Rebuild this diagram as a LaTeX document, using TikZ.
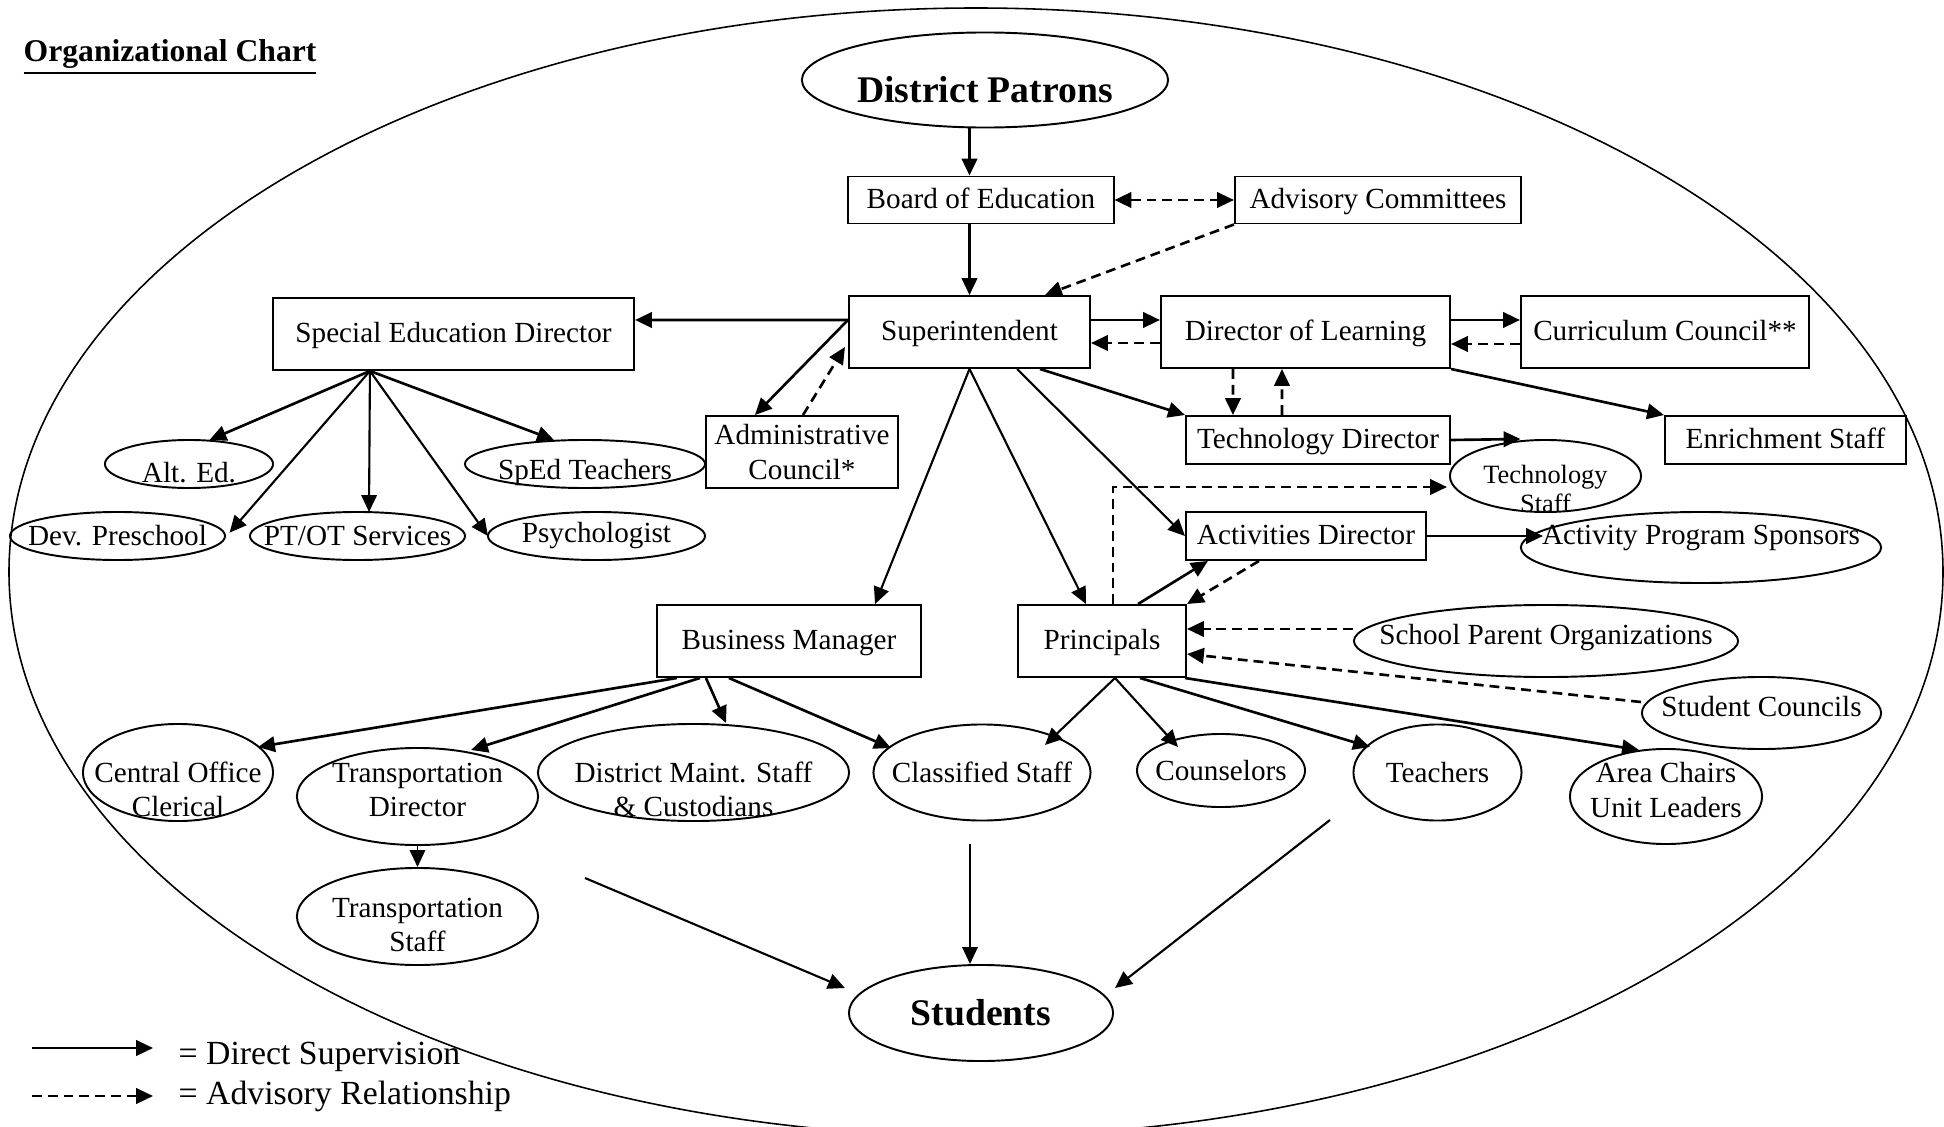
\documentclass[tikz,border=0pt]{standalone}
\usepackage{fontspec}
\setmainfont{Liberation Serif}
\usetikzlibrary{shapes.geometric,arrows.meta}

\tikzset{
    plainbox/.style 2 args={draw, line width=0.55pt, rectangle, inner sep=0pt, minimum width=#1, minimum height=#2},
    rbox/.style 2 args={plainbox={#1}{#2}, text height=0.68em, text depth=0.22em},
    oval/.style 2 args={draw, line width=0.55pt, ellipse, inner sep=0pt, minimum width=#1, minimum height=#2},
    sv/.style={line width=0.75pt, -{Triangle[length=4.8pt,width=4.4pt]}},
    svmid/.style={line width=0.6pt, -{Triangle[length=4.8pt,width=4.4pt]}},
    svthin/.style={line width=0.45pt, -{Triangle[length=4.8pt,width=4.4pt]}},
    adv/.style={line width=0.75pt, dash pattern=on 2.8pt off 1.7pt, -{Triangle[length=4.8pt,width=4.4pt]}},
    bigtext/.style={font=\bfseries\fontsize{10.7}{12}\selectfont},
    smalltext/.style={font=\fontsize{7.5}{8}\selectfont},
}

\begin{document}
\begin{tikzpicture}[x=0.01cm, y=-0.01cm, font=\fontsize{8.3}{9.7}\selectfont]
    \useasboundingbox (0,0) rectangle (1944,1127);
    \draw[line width=0.45pt] (976,572) ellipse (967 and 564);

    \node[anchor=base west, inner sep=0pt, font=\bfseries\fontsize{9}{11}\selectfont] (title) at (23,61) {\underline{Organizational Chart}};

    \node[oval={3.66cm}{.95cm}, label={[bigtext, yshift=-.1cm]center:District Patrons}] (patrons) at (985,80) {};
    \node[rbox={2.65cm}{.47cm}] (boe) at (981,200) {Board of Education};
    \node[rbox={2.86cm}{.47cm}] (advc) at (1378,200) {Advisory Committees};
    \node[rbox={2.41cm}{.72cm}] (sup) at (969.5,332) {Superintendent};
    \node[rbox={3.61cm}{.72cm}] (sped) at (453.5,334) {Special Education Director};
    \node[rbox={2.89cm}{.72cm}] (dol) at (1305.5,332) {Director of Learning};
    \node[rbox={2.88cm}{.72cm}] (cc) at (1665,332) {Curriculum Council**};
    \node[plainbox={1.92cm}{.72cm}, align=center] (admc) at (802,452) {Administrative\\Council*};
    \node[rbox={2.64cm}{.48cm}] (techdir) at (1318,440) {Technology Director};
    \node[rbox={2.41cm}{.48cm}] (enrich) at (1785.5,440) {Enrichment Staff};
    \node[oval={1.91cm}{.72cm}, label={[smalltext, align=center, yshift=-.13cm]center:Technology\\Staff}] (techstaff) at (1545.5,476) {};
    \node[rbox={2.40cm}{.48cm}] (actdir) at (1306,536) {Activities Director};
    \node[oval={3.60cm}{.71cm}, label={[yshift=.1cm]center:Activity Program Sponsors}] (sponsors) at (1701,547.5) {};
    \node[oval={3.84cm}{.72cm}, label={[yshift=.03cm]center:School Parent Organizations}] (parents) at (1546,641) {};
    \node[rbox={1.68cm}{.72cm}] (princ) at (1102,641) {Principals};
    \node[rbox={2.64cm}{.72cm}] (busmgr) at (789,641) {Business Manager};
    \node[oval={2.39cm}{.72cm}, label={[yshift=.06cm]center:Student Councils}] (stucouncil) at (1761.5,713) {};

    \node[oval={1.68cm}{.48cm}, label={[yshift=-.09cm]center:Alt. Ed.}] (alted) at (189,464) {};
    \node[oval={2.40cm}{.48cm}, label={[yshift=-.08cm]center:SpEd Teachers}] (spedteach) at (585,464) {};
    \node[oval={2.15cm}{.48cm}, label={center:Dev. Preschool}] (devpre) at (117.5,536) {};
    \node[oval={2.15cm}{.48cm}, label={center:PT/OT Services}] (ptot) at (357.5,536) {};
    \node[oval={2.17cm}{.48cm}, label={center:Psychologist}] (psych) at (596.5,536) {};

    \node[oval={1.90cm}{.97cm}, label={[align=center, yshift=-.17cm]center:Central Office\\Clerical}] (clerical) at (178,772.5) {};
    \node[oval={2.41cm}{.97cm}, label={[align=center, yshift=.065cm]center:Transportation\\Director}] (transdir) at (417.5,796.5) {};
    \node[oval={3.11cm}{.97cm}, label={[align=center, yshift=-.17cm]center:District Maint. Staff\\\& Custodians}] (maint) at (693.5,772.5) {};
    \node[oval={2.17cm}{.96cm}, label={center:Classified Staff}] (classified) at (982,772.5) {};
    \node[oval={1.68cm}{.73cm}, label={center:Counselors}] (counsel) at (1221,770.5) {};
    \node[oval={1.68cm}{.96cm}, label={center:Teachers}] (teachers) at (1437.5,772.5) {};
    \node[oval={1.92cm}{.95cm}, label={[align=center, yshift=.065cm]center:Area Chairs\\Unit Leaders}] (chairs) at (1666,796.5) {};
    \node[oval={2.41cm}{.97cm}, label={[align=center, yshift=-.085cm]center:Transportation\\Staff}] (transstaff) at (417.5,916.5) {};
    \node[oval={2.64cm}{.96cm}, label={[bigtext]center:Students}] (students) at (981,1013) {};

    \draw[sv] (patrons.south -| sup.north) -- (boe.north -| sup.north);
    \draw[adv, {Triangle[length=4.8pt,width=4.4pt]}-{Triangle[length=4.8pt,width=4.4pt]}] (boe.east) -- (advc.west);
    \draw[sv] (boe.south -| sup.north) -- (sup.north);
    \draw[adv] (advc.south west) -- ([xshift=.755cm]sup.north);
    \draw[sv] ([yshift=.12cm]sup.west) -- ([yshift=.14cm]sped.east);
    \draw[sv] ([yshift=.12cm]sup.west) -- ([xshift=-.47cm]admc.north);
    \draw[adv] ([xshift=.01cm]admc.north) -- ([xshift=-.03cm, yshift=-.15cm]sup.west);
    \draw[sv] ([yshift=.12cm]sup.east) -- ([yshift=.12cm]dol.west);
    \draw[adv] ([yshift=-.11cm]dol.west) -- ([yshift=-.11cm]sup.east);
    \draw[sv] ([yshift=.12cm]dol.east) -- ([yshift=.12cm]cc.west);
    \draw[adv] ([yshift=-.12cm]cc.west) -- ([yshift=-.12cm]dol.east);
    \draw[adv] ([xshift=-.725cm]dol.south) -- ([xshift=-.85cm]techdir.north);
    \draw[adv] ([xshift=-.36cm]techdir.north) -- ([xshift=-.235cm]dol.south);
    \draw[sv] ([xshift=.705cm]sup.south) -- (techdir.north west);
    \draw[sv] (dol.south east) -- (enrich.north west);
    \draw[sv] (techdir.east) -- ([xshift=-.25cm]techstaff.north);
    \draw[svmid] ([xshift=.475cm]sup.south) -- (actdir.west);
    \draw[svmid] (sup.south) -- ([xshift=.86cm]busmgr.north);
    \draw[svmid] (sup.south) -- ([xshift=-.16cm]princ.north);
    \draw[sv] ([xshift=.36cm]princ.north) -- ([xshift=-.98cm]actdir.south);
    \draw[adv] ([xshift=-.47cm]actdir.south) -- (princ.north east);
    \draw[adv] ([xshift=.11cm]princ.north) |- ([xshift=-.02cm, yshift=-.11cm]techstaff.west);
    \draw[sv] (actdir.east) -- ([xshift=.23cm]sponsors.west |- actdir.east);
    \draw[adv] ([yshift=.12cm]parents.west) -- ([yshift=.12cm]princ.east);
    \draw[adv] ([yshift=.11cm]stucouncil.west) -- ([yshift=-.13cm]princ.east);

    \foreach \t/\dx/\dy/\w in {alted/.205/.24/sv, spedteach/-.31/.24/sv, devpre/1.12/.033/svmid, ptot/.115/.24/svmid, psych/-1.085/0/svmid}
        \draw[\w] ([xshift=-.835cm]sped.south) -- ([xshift=\dx cm, yshift=\dy cm]\t.center);

    \foreach \s/\t/\dx/\dy in {-1.12/clerical/.8/.255, -.89/transdir/.535/.465, -.83/maint/.325/.495, -.6/classified/-.91/.245}
        \draw[sv] ([xshift=\s cm]busmgr.south) -- ([xshift=\dx cm, yshift=\dy cm]\t.center);

    \foreach \s/\t/\dx/\dy/\w in {.13/classified/.63/.275/svmid, .13/counsel/-.43/.235/svmid, .38/teachers/-.675/.255/sv, .83/chairs/-.27/.465/sv}
        \draw[\w] ([xshift=\s cm]princ.south) -- ([xshift=\dx cm, yshift=\dy cm]\t.center);

    \draw[svthin] (transdir.south) -- (transstaff.north);

    \coordinate (leftfree) at (585,878);
    \coordinate (midfree) at (970,844);
    \coordinate (rightfree) at (1330,820);
    \draw[svmid] (leftfree) -- ([xshift=-1.36cm, yshift=.25cm]students.center);
    \draw[svthin] (midfree) -- ([xshift=-.11cm]students.north);
    \draw[svmid] (rightfree) -- ([xshift=1.34cm, yshift=.25cm]students.center);

    \coordinate (solida) at (32,1048);
    \coordinate (solidb) at (153,1048);
    \coordinate (dasha) at (32,1096);
    \coordinate (dashb) at (153,1096);
    \draw[sv] (solida) -- (solidb);
    \draw[adv] (dasha) -- (dashb);
    \node[anchor=base west, inner sep=0pt, font=\fontsize{9.6}{11}\selectfont] (solidtext) at (178,1064) {= Direct Supervision};
    \node[anchor=base west, inner sep=0pt, font=\fontsize{9.6}{11}\selectfont] (dashtext) at (178,1104) {= Advisory Relationship};
\end{tikzpicture}
\end{document}
